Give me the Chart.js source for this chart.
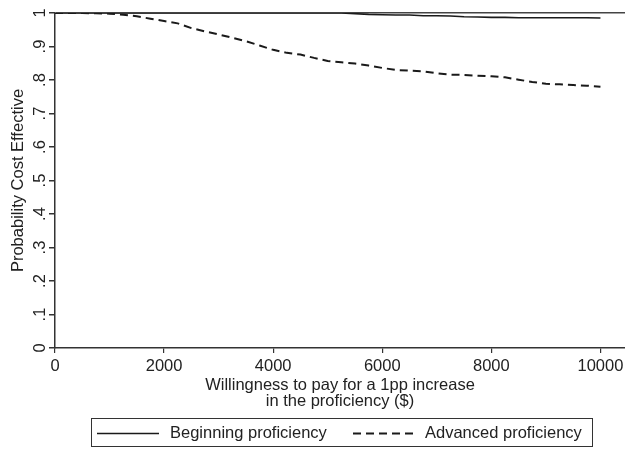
<!DOCTYPE html>
<html>
<head>
<meta charset="utf-8">
<script src="https://cdn.jsdelivr.net/npm/chart.js@4/dist/chart.umd.min.js"></script>
<style>
  html, body { margin: 0; padding: 0; background: #fff; }
  #wrap { width: 625px; height: 449px; position: relative; }
</style>
</head>
<body>
<div id="wrap"><canvas id="chart" width="625" height="449"></canvas></div>
<script>
// willingness to pay ($), every 250
var wtp = [0,250,500,750,1000,1250,1500,1750,2000,2250,2500,2750,3000,3250,3500,3750,4000,4250,4500,4750,5000,
           5250,5500,5750,6000,6250,6500,6750,7000,7250,7500,7750,8000,8250,8500,8750,9000,9250,9500,9750,10000];

var beginning = [1,1,1,1,1,1,1,1,1,1,1,1,1,1,1,1,1,1,1,1,1,
                 1,0.998,0.996,0.995,0.994,0.994,0.992,0.992,0.991,0.989,0.988,0.987,0.987,0.986,0.986,0.986,0.986,0.986,0.986,0.985];

var advanced = [1,1,1,0.999,0.998,0.995,0.990,0.983,0.976,0.969,0.955,0.945,0.936,0.926,0.916,0.903,0.890,0.881,0.876,0.866,0.857,
                0.853,0.849,0.843,0.836,0.830,0.828,0.826,0.820,0.816,0.815,0.813,0.811,0.808,0.801,0.794,0.789,0.787,0.785,0.783,0.780];

var xTicks = [0,2000,4000,6000,8000,10000];
var yTicks = [0,0.1,0.2,0.3,0.4,0.5,0.6,0.7,0.8,0.9,1];
var yLabels = ['0','.1','.2','.3','.4','.5','.6','.7','.8','.9','1'];

var seriesNames = ['Beginning proficiency','Advanced proficiency'];
var xTitle = ['Willingness to pay for a 1pp increase','in the proficiency ($)'];
var yTitle = 'Probability Cost Effective';

var FONT = '"Liberation Sans", Arial, sans-serif';
var INK = '#222';

function pairs(xs, ys) {
    var out = [];
    for (var i = 0; i < xs.length; i++) out.push({x: xs[i], y: ys[i]});
    return out;
}

// y tick labels are rotated like stata does, plus the boxed legend at the bottom
var stataBits = {
    id: 'stataBits',
    afterDraw: function(chart) {
        var ctx = chart.ctx;
        var ys = chart.scales.y;
        ctx.save();
        ctx.fillStyle = INK;
        ctx.font = '16.5px ' + FONT;
        ctx.textAlign = 'center';
        ctx.textBaseline = 'middle';
        ys.ticks.forEach(function(t, i) {
            var py = ys.getPixelForValue(t.value);
            ctx.save();
            ctx.translate(40, py);
            ctx.rotate(-Math.PI / 2);
            ctx.fillText(yLabels[i], 0, 0);
            ctx.restore();
        });

        // legend
        ctx.strokeStyle = '#333';
        ctx.lineWidth = 1;
        ctx.strokeRect(91.5, 418.5, 501, 28);
        var ly = 433.5;
        var samples = [[97, 159, 170], [353, 415, 425]];
        chart.data.datasets.forEach(function(ds, i) {
            ctx.beginPath();
            ctx.strokeStyle = ds.borderColor;
            ctx.lineWidth = ds.borderWidth;
            ctx.setLineDash(ds.borderDash || []);
            ctx.moveTo(samples[i][0], ly);
            ctx.lineTo(samples[i][1], ly);
            ctx.stroke();
            ctx.setLineDash([]);
            ctx.textAlign = 'left';
            ctx.textBaseline = 'alphabetic';
            ctx.fillText(ds.label, samples[i][2], 438);
        });
        ctx.restore();
    }
};

var ctx = document.getElementById('chart').getContext('2d');
var myChart = new Chart(ctx, {
    type: 'line',
    data: {
        datasets: [{
            label: seriesNames[0],
            data: pairs(wtp, beginning),
            borderColor: '#1a1a1a',
            borderWidth: 1.6,
            pointRadius: 0,
            tension: 0,
            fill: false
        }, {
            label: seriesNames[1],
            data: pairs(wtp, advanced),
            borderColor: '#1a1a1a',
            borderWidth: 2,
            borderDash: [8, 5],
            pointRadius: 0,
            tension: 0,
            fill: false
        }]
    },
    options: {
        responsive: false,
        animation: false,
        maintainAspectRatio: false,
        layout: { padding: { top: 13, right: 0, left: 0, bottom: 0 } },
        plugins: {
            legend: { display: false },
            tooltip: { enabled: false }
        },
        scales: {
            x: {
                type: 'linear',
                min: 0,
                max: 10450,
                afterBuildTicks: function(scale) {
                    scale.ticks = xTicks.map(function(v) { return {value: v}; });
                },
                afterFit: function(scale) {
                    scale.height = 101;
                    scale.paddingLeft = 0;
                    scale.paddingRight = 0;
                },
                border: { display: true, color: '#333', width: 1.5 },
                grid: { display: true, drawOnChartArea: false, drawTicks: true, tickLength: 5, color: '#333', lineWidth: 1.2 },
                ticks: {
                    color: INK,
                    font: { family: FONT, size: 16.5 },
                    padding: 4,
                    maxRotation: 0,
                    callback: function(v) { return String(v); }
                },
                title: {
                    display: true,
                    text: xTitle,
                    color: INK,
                    font: { family: FONT, size: 16.5, lineHeight: 0.97 },
                    padding: { top: 0, bottom: 40 }
                }
            },
            y: {
                type: 'linear',
                min: 0,
                max: 1,
                afterBuildTicks: function(scale) {
                    scale.ticks = yTicks.map(function(v) { return {value: v}; });
                },
                afterFit: function(scale) { scale.width = 55; },
                border: { display: true, color: '#333', width: 1.5 },
                grid: {
                    display: true,
                    drawTicks: true,
                    tickLength: 6,
                    color: function(c) {
                        if (c.type === 'tick' && c.tick && c.tick.value === 1) return '#444';
                        return 'rgba(0,0,0,0)';
                    },
                    tickColor: '#333',
                    lineWidth: 1.5
                },
                ticks: { display: false },
                title: {
                    display: true,
                    text: yTitle,
                    color: INK,
                    font: { family: FONT, size: 16.5 },
                    padding: { top: 9, bottom: 0 }
                }
            }
        }
    },
    plugins: [stataBits]
});
</script>
</body>
</html>
